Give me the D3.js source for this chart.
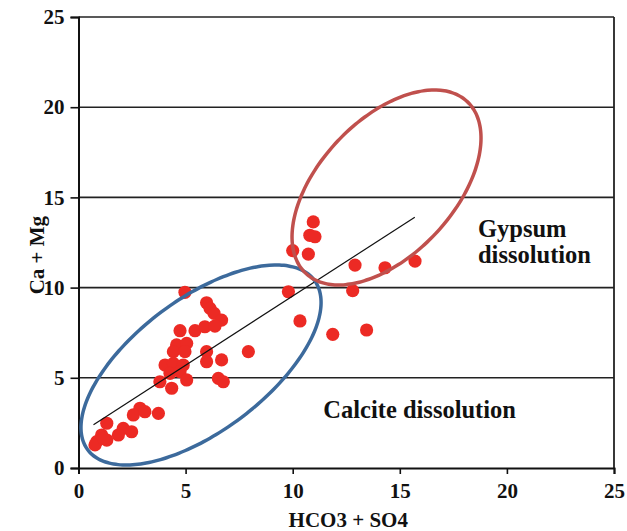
<!DOCTYPE html>
<html>
<head>
<meta charset="utf-8">
<script src="https://cdn.jsdelivr.net/npm/d3@7"></script>
<style>
  html, body { margin: 0; padding: 0; background: #fff; }
  svg { display: block; }
  text { font-family: "Liberation Serif", "Times New Roman", serif; font-weight: bold; fill: #111; }
</style>
</head>
<body>
<svg id="chart" width="627" height="531"></svg>
<script>
// Sample chemistry: HCO3 + SO4 (x) against Ca + Mg (y)
const hco3so4 = [
  10.96, 10.80, 11.04, 10.00, 10.73, 12.91, 14.31, 15.71, 9.80, 12.80,
  10.34, 11.87, 13.45,
  4.97, 5.98, 6.14, 6.33, 6.68, 4.74, 5.44, 5.90, 6.37, 4.58,
  5.05, 4.43, 4.97, 5.98, 6.68, 7.93, 4.04, 4.43, 4.89, 4.27,
  4.74, 5.05, 3.80, 4.35, 5.98, 6.53, 6.76, 2.87, 2.56, 3.10,
  3.73, 1.32, 2.09, 1.86, 2.48, 1.08, 1.32, 0.85, 0.77, 1.16
];
const caMg = [
  13.64, 12.90, 12.82, 12.05, 11.86, 11.25, 11.10, 11.47, 9.77, 9.83,
  8.15, 7.41, 7.65,
  9.74, 9.16, 8.85, 8.57, 8.20, 7.61, 7.61, 7.83, 7.87, 6.82,
  6.91, 6.45, 6.45, 6.45, 5.99, 6.45, 5.71, 5.80, 5.71, 5.25,
  5.34, 4.88, 4.78, 4.42, 5.89, 4.97, 4.78, 3.31, 2.94, 3.12,
  3.03, 2.48, 2.20, 1.83, 2.01, 1.83, 1.55, 1.46, 1.28, 1.65
];

// Fitted trend line end points
const trendX = [0.7, 15.7];
const trendY = [2.4, 13.9];

// Axis ticks
const xTicks = [0, 5, 10, 15, 20, 25];
const yTicks = [0, 5, 10, 15, 20, 25];

// Grouping ellipses in data units: centre and two conjugate half-axis vectors
const calciteEllipse = { cx: 5.72, cy: 5.71, ux: 5.29, uy: 4.70, vx: 1.85, vy: -2.94 };
const gypsumEllipse  = { cx: 14.38, cy: 15.55, ux: 3.77, uy: 4.76, vx: 2.29, vy: -2.56 };

const annotations = [
  { lines: ["Gypsum", "dissolution"], x: 18.65, y: 12.8 },
  { lines: ["Calcite dissolution"], x: 11.43, y: 2.77 }
];

const svg = d3.select("#chart");
const x = d3.scaleLinear().domain([0, 25]).range([78.5, 614]);
const y = d3.scaleLinear().domain([0, 25]).range([468, 17]);

// Horizontal grid lines
svg.append("g")
  .selectAll("line")
  .data(yTicks.filter(d => d > 0))
  .join("line")
  .attr("x1", x(0)).attr("x2", x(25))
  .attr("y1", d => y(d)).attr("y2", d => y(d))
  .attr("stroke", "#222").attr("stroke-width", 1.6);

// Right border
svg.append("line")
  .attr("x1", x(25)).attr("x2", x(25))
  .attr("y1", y(0)).attr("y2", y(25))
  .attr("stroke", "#222").attr("stroke-width", 1.8);

// Axes
const xAxis = svg.append("g")
  .attr("transform", `translate(0,${y(0)})`)
  .call(d3.axisBottom(x).tickValues(xTicks).tickSize(6).tickPadding(9));
const yAxis = svg.append("g")
  .attr("transform", `translate(${x(0)},0)`)
  .call(d3.axisLeft(y).tickValues(yTicks).tickSize(8).tickPadding(6));

[xAxis, yAxis].forEach(g => {
  g.attr("font-family", null).attr("font-size", null);
  g.select(".domain").attr("stroke", "#111").attr("stroke-width", 2);
  g.selectAll(".tick line").attr("stroke", "#111").attr("stroke-width", 1.6);
  g.selectAll(".tick text")
    .attr("font-family", "Liberation Serif, Times New Roman, serif")
    .attr("font-weight", "bold")
    .attr("font-size", 21)
    .attr("fill", "#111");
});

// Axis titles
svg.append("text")
  .attr("x", x(12.5) + 2).attr("y", 527)
  .attr("text-anchor", "middle")
  .attr("font-size", 21)
  .text("HCO3 + SO4");
svg.append("text")
  .attr("transform", `translate(44,${y(11.8)}) rotate(-90)`)
  .attr("text-anchor", "middle")
  .attr("font-size", 21)
  .text("Ca + Mg");

// Data points
svg.append("g")
  .selectAll("circle")
  .data(hco3so4.map((v, i) => [v, caMg[i]]))
  .join("circle")
  .attr("cx", d => x(d[0]))
  .attr("cy", d => y(d[1]))
  .attr("r", 6.6)
  .attr("fill", "#ec2a24");

// Trend line
svg.append("line")
  .attr("x1", x(trendX[0])).attr("y1", y(trendY[0]))
  .attr("x2", x(trendX[1])).attr("y2", y(trendY[1]))
  .attr("stroke", "#111").attr("stroke-width", 1.2);

// Ellipses traced through the scales
function ellipsePath(e) {
  const pts = d3.range(0, 360, 3).map(deg => {
    const t = deg * Math.PI / 180;
    return [x(e.cx + e.ux * Math.cos(t) + e.vx * Math.sin(t)),
            y(e.cy + e.uy * Math.cos(t) + e.vy * Math.sin(t))];
  });
  return d3.line().curve(d3.curveCardinalClosed)(pts);
}
svg.append("path")
  .attr("d", ellipsePath(calciteEllipse))
  .attr("fill", "none").attr("stroke", "#3c6a9c").attr("stroke-width", 3.5);
svg.append("path")
  .attr("d", ellipsePath(gypsumEllipse))
  .attr("fill", "none").attr("stroke", "#c0504d").attr("stroke-width", 3.5);

// Region labels
annotations.forEach(a => {
  const t = svg.append("text")
    .attr("x", x(a.x)).attr("y", y(a.y))
    .attr("text-anchor", "start")
    .attr("font-size", 24.5);
  a.lines.forEach((l, i) => {
    t.append("tspan").attr("x", x(a.x)).attr("dy", i === 0 ? 0 : 26).text(l);
  });
});
</script>
</body>
</html>
